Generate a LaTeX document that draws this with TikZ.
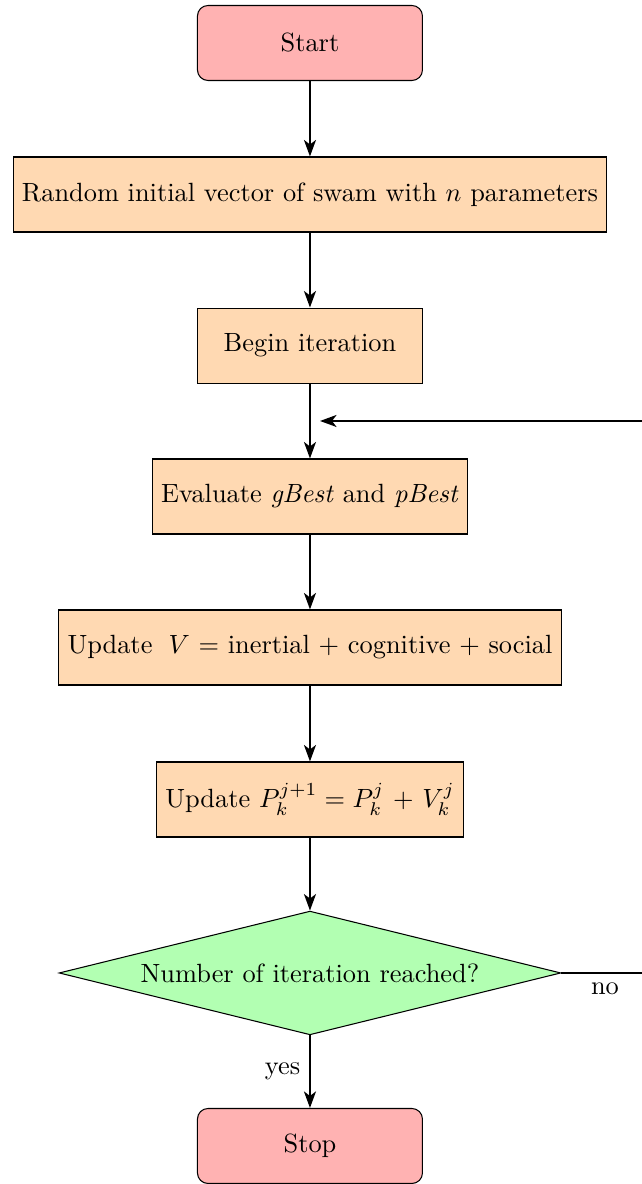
\documentclass[tikz,border=0pt]{standalone}
\usetikzlibrary{shapes.geometric,arrows.meta}
\begin{document}
\begin{tikzpicture}[
  startstop/.style={rectangle, rounded corners, minimum width=3cm, minimum height=1cm, text centered, draw=black, fill=red!30},
  process/.style={rectangle, minimum width=3cm, minimum height=1cm, text centered, draw=black, fill=orange!30},
  decision/.style={diamond, aspect=4, inner sep=0pt, minimum width=6.69cm, minimum height=1.65cm, text centered, draw=black, fill=green!30},
  arrow/.style={thick, -{Stealth[length=2.2mm,width=1.6mm,inset=0.6mm]}}
]
\useasboundingbox (0,0) rectangle (8.56,-15.787);
\node[startstop] (start) at (4.133,-0.573) {Start};
\node[process] (init) at (4.133,-2.593) {Random initial vector of swam with $n$ parameters};
\node[process] (begin) at (4.133,-4.607) {Begin iteration};
\node[process] (eval) at (4.133,-6.62) {Evaluate \textit{gBest} and \textit{pBest}};
\node[process] (updv) at (4.133,-8.633) {Update $\;V$ = inertial + cognitive + social};
\node[process] (updp) at (4.133,-10.66) {Update $P_k^{j+1} = P_k^j$ + $V_k^j$};
\node[decision] (dec) at (4.133,-12.973) {Number of iteration reached?};
\node[startstop] (stop) at (4.133,-15.28) {Stop};
\coordinate (corner) at (9.3,-12.973);
\coordinate (loopin) at (4.267,-5.613);
\draw[arrow] (start) -- (init);
\draw[arrow] (init) -- (begin);
\draw[arrow] (begin) -- (eval);
\draw[arrow] (eval) -- (updv);
\draw[arrow] (updv) -- (updp);
\draw[arrow] (updp) -- (dec);
\draw[arrow] (dec) -- node[left] {yes} (stop);
\draw[arrow] (dec.east) -- node[below, pos=0.32] {no} (corner) |- (loopin);
\end{tikzpicture}
\end{document}
